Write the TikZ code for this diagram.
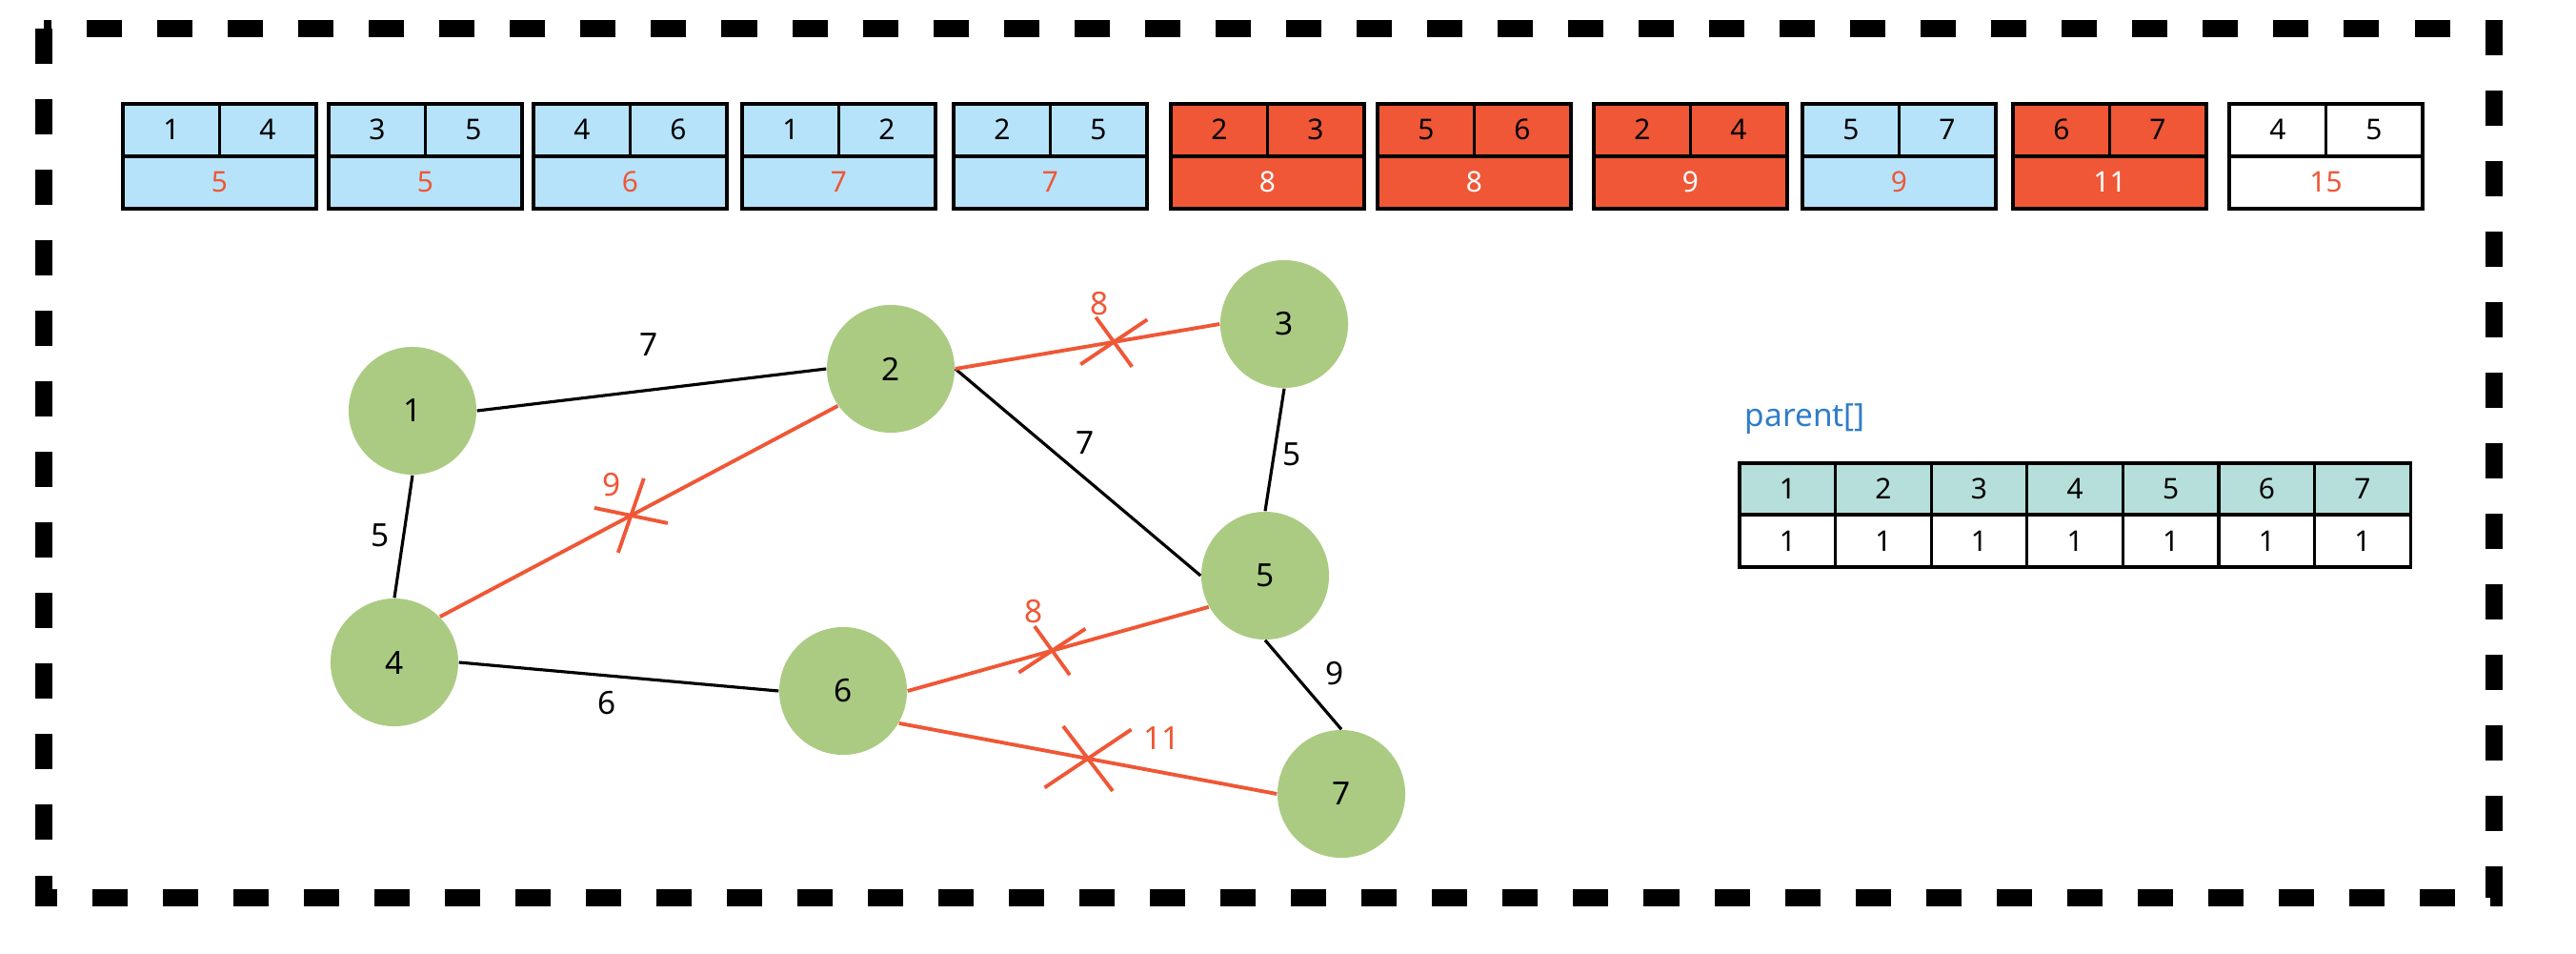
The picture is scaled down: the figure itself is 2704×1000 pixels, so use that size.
\documentclass[tikz,border=0pt]{standalone}
\usepackage{fontspec}
\setmainfont{Noto Sans}
\usepackage{tikz}
\definecolor{cellblue}{RGB}{182,227,249}
\definecolor{cutred}{RGB}{239,87,54}
\definecolor{nodegreen}{RGB}{171,203,131}
\definecolor{cellteal}{RGB}{182,223,219}
\definecolor{titleblue}{RGB}{47,125,200}

\begin{document}
\begin{tikzpicture}[x=0.01cm, y=-0.01cm,
    vertex/.style={circle, fill=nodegreen, minimum size=1.34cm, inner sep=0pt, font=\fontsize{9.5}{11}\selectfont},
    edge/.style={line width=0.9pt},
    cutedge/.style={line width=1.1pt, cutred},
    weight/.style={font=\fontsize{9.5}{11}\selectfont, inner sep=0pt},
    cell/.style={font=\fontsize{8.5}{10}\selectfont, inner sep=0pt},
    grid/.style={line width=0.9pt}]
      \useasboundingbox (0,0) rectangle (2704,1000);
      \draw [line width=0.18cm, dash pattern=on 0.37cm off 0.37cm] (46,30) rectangle (2618,942);
      \foreach \x/\a/\b/\w/\bg/\wc in {129/1/4/5/cellblue/cutred, 345/3/5/5/cellblue/cutred,
          560/4/6/6/cellblue/cutred, 779/1/2/7/cellblue/cutred, 1001/2/5/7/cellblue/cutred,
          1229/2/3/8/cutred/white, 1446/5/6/8/cutred/white, 1673/2/4/9/cutred/white,
          1892/5/7/9/cellblue/cutred, 2113/6/7/11/cutred/white, 2340/4/5/15/white/cutred}
      {
        \draw [grid, fill=\bg] (\x,109) rectangle +(203,110);
        \draw [grid] (\x,164) -- +(203,0) (\x+101.5,109) -- +(0,55);
        \node [cell] (ea\x) at (\x+51,136) {\a};
        \node [cell] (eb\x) at (\x+152,136) {\b};
        \node [cell, text=\wc] (ew\x) at (\x+101.5,191) {\w};
      }
      \node [font=\fontsize{9.5}{11}\selectfont, text=titleblue, anchor=base west, inner sep=0pt] (ptitle) at (1831,447) {parent[]};
      \foreach \i in {1,...,7}
      {
        \draw [grid, fill=cellteal] ({1826+(\i-1)*100.6},486) rectangle +(100.6,54);
        \draw [grid] ({1826+(\i-1)*100.6},540) rectangle +(100.6,55);
        \node [cell] (pi\i) at ({1826+(\i-0.5)*100.6},513) {\i};
        \node [cell] (pv\i) at ({1826+(\i-0.5)*100.6},568) {1};
      }
      \node [vertex] (n1) at (433,431) {1};
      \node [vertex] (n2) at (935,387) {2};
      \node [vertex] (n3) at (1348,340) {3};
      \node [vertex] (n4) at (414,695) {4};
      \node [vertex] (n5) at (1328,604) {5};
      \node [vertex] (n6) at (885,725) {6};
      \node [vertex] (n7) at (1408,833) {7};
      \draw [edge] (n1.east) -- (n2.west) node [weight, midway, shift={(-3,-47)}] (w12) {7};
      \draw [edge] (n1.south) -- (n4.north) node [weight, midway, shift={(-24,-1)}] (w14) {5};
      \draw [edge] (n4.east) -- (n6.west) node [weight, midway, shift={(-12,28)}] (w46) {6};
      \draw [edge] (n2.east) -- (n5.west) node [weight, midway, shift={(8,-31)}] (w25) {7};
      \draw [edge] (n3.south) -- (n5.north) node [weight, midway, shift={(18,5)}] (w35) {5};
      \draw [edge] (n5.south) -- (n7.north) node [weight, midway, shift={(33,-12)}] (w57) {9};
      \draw [cutedge] (n2.east) -- (n3.west) coordinate [pos=0.6] (c23)
          node [weight, pos=0.6, shift={(-15,-40)}] (w23) {8};
      \draw [cutedge] (c23) ++(-35,23.5) -- ++(70,-47) (c23) ++(-19,-26) -- ++(38,52);
      \draw [cutedge] (n2.215) -- (n4.45) coordinate [pos=0.52] (c24)
          node [weight, pos=0.52, shift={(-20,-32)}] (w24) {9};
      \draw [cutedge] (c24) ++(-38.5,-8) -- ++(77,16) (c24) ++(13.5,-39) -- ++(-27,78);
      \draw [cutedge] (n6.east) -- (n5.209) coordinate [pos=0.48] (c65)
          node [weight, pos=0.48, shift={(-19,-41)}] (w65) {8};
      \draw [cutedge] (c65) ++(-35,23) -- ++(70,-46) (c65) ++(-18.5,-25.5) -- ++(37,51);
      \draw [cutedge] (n6.-30) -- (n7.west) coordinate [pos=0.5] (c67)
          node [weight, pos=0.5, shift={(78,-21)}] (w67) {11};
      \draw [cutedge] (c67) ++(-45.5,30.5) -- ++(91,-61) (c67) ++(-26,-34) -- ++(52,68);
    \end{tikzpicture}
\end{document}
